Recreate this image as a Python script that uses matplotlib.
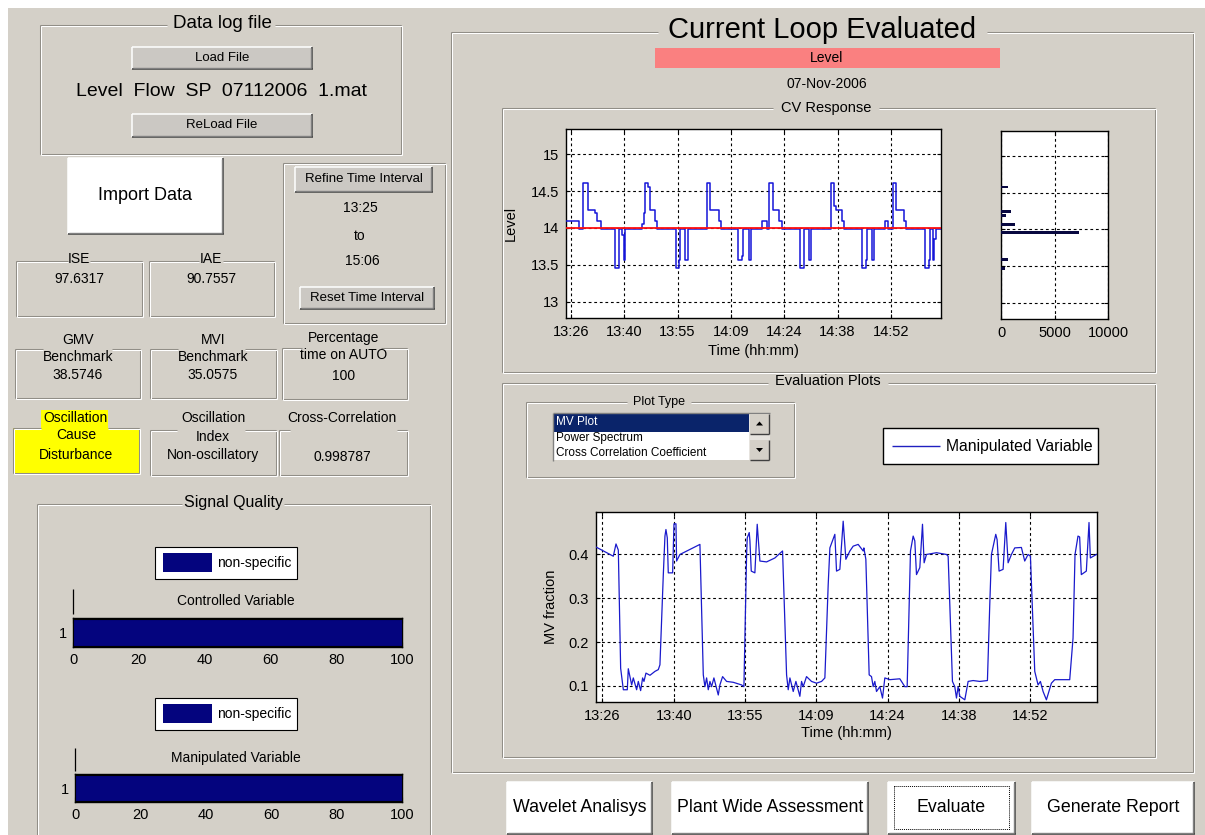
import matplotlib
matplotlib.use('Agg')
import matplotlib.pyplot as plt
from matplotlib.patches import Rectangle, Polygon

# ---------------- data ----------------
time_span_min = 101                      # 13:25 -> 15:06, minutes
time_tick_min = [1.3, 15.67, 30.04, 44.41, 58.78, 73.15, 87.52]
time_tick_labels = ['13:26', '13:40', '13:55', '14:09', '14:24', '14:38', '14:52']

setpoint = 14.0
cv_t = [0.0, 3.6, 4.6, 5.8, 7.9, 8.3, 9.3, 13.3, 14.2, 15.2, 15.5, 15.9,
        20.5, 20.9, 21.2, 22.0, 22.5, 24.0, 24.6, 29.6, 30.3, 30.6, 32.1, 32.8,
        38.0, 38.9, 41.1, 41.7, 46.2, 47.4, 47.8, 49.2, 49.8,
        52.8, 54.1, 54.8, 55.7, 57.5, 58.2, 63.1, 64.0, 65.4, 66.0,
        71.5, 72.1, 72.6, 74.3, 75.0, 79.7, 80.7, 81.0, 82.4, 83.0,
        86.0, 86.7, 88.1, 89.0, 91.1, 91.7, 96.7, 97.7, 98.0, 98.8, 99.2, 99.7, 101.0]
cv_v = [14.10, 13.98, 14.61, 14.24, 14.20, 14.10, 13.98, 13.46, 13.98, 13.90, 13.56, 13.98,
        14.05, 14.20, 14.61, 14.55, 14.24, 14.10, 13.98, 13.46, 13.56, 13.98, 13.56, 13.98,
        14.61, 14.24, 14.10, 13.98, 13.56, 13.62, 13.98, 13.56, 13.98,
        14.10, 13.98, 14.61, 14.24, 14.10, 13.98, 13.46, 13.98, 13.56, 13.98,
        14.61, 14.30, 14.24, 14.10, 13.98, 13.46, 13.56, 13.98, 13.56, 13.98,
        14.10, 13.98, 14.61, 14.24, 14.10, 13.98, 13.46, 13.56, 13.98, 13.56, 13.85, 13.98, 13.98]

hist_level = [14.58, 14.24, 14.19, 14.07, 13.96, 13.59, 13.47]
hist_count = [620, 930, 470, 1340, 7260, 620, 340]

mv_t = [0.0, 3.49, 4.03, 4.50, 4.97, 5.51, 6.31, 6.51, 7.19, 7.52, 8.19, 8.53, 9.00, 9.40,
        9.67, 10.07, 10.88, 11.89, 12.56, 12.89, 13.57, 13.90, 14.10, 14.37, 14.57, 15.45,
        15.72, 16.12, 16.25, 16.92, 20.95, 21.63, 21.96, 22.30, 22.63, 22.97, 23.30, 23.77,
        24.65, 24.98, 25.52, 26.33, 27.67, 29.35, 29.82, 30.36, 30.49, 30.89, 31.03, 31.30,
        32.03, 32.50, 33.04, 34.39, 36.06, 37.61, 38.42, 38.75, 39.09, 39.76, 40.30, 41.10,
        41.44, 41.77, 42.44, 43.45, 44.46, 45.47, 46.14, 46.81, 47.15, 48.15, 48.49, 49.16,
        49.83, 50.37, 51.18, 51.85, 52.85, 53.86, 54.00, 54.40, 55.07, 55.54, 55.88, 56.21,
        56.55, 57.22, 57.76, 58.23, 59.24, 61.25, 62.26, 62.73, 63.40, 63.94, 64.27, 64.61,
        65.28, 65.82, 66.15, 66.62, 68.64, 70.65, 70.99, 71.86, 72.33, 72.67, 73.00, 73.34,
        74.35, 75.02, 76.02, 77.37, 78.91, 79.38, 79.72, 80.59, 80.86, 81.26, 82.07, 82.61,
        83.08, 83.75, 84.42, 85.76, 86.43, 87.10, 87.58, 88.45, 89.12, 89.59, 90.13, 90.80,
        91.81, 92.48, 95.50, 96.17, 96.57, 97.17, 97.50, 97.84, 98.85, 99.39, 99.66, 100.87]
mv_v = [0.417, 0.396, 0.424, 0.410, 0.140, 0.091, 0.091, 0.139, 0.102, 0.118, 0.091, 0.110,
        0.089, 0.118, 0.110, 0.129, 0.124, 0.133, 0.137, 0.148, 0.354, 0.442, 0.457, 0.438,
        0.358, 0.358, 0.470, 0.470, 0.385, 0.400, 0.423, 0.125, 0.098, 0.118, 0.091, 0.110,
        0.098, 0.118, 0.079, 0.102, 0.121, 0.110, 0.108, 0.102, 0.098, 0.400, 0.438, 0.450,
        0.431, 0.362, 0.358, 0.469, 0.385, 0.383, 0.392, 0.408, 0.125, 0.091, 0.118, 0.087,
        0.110, 0.076, 0.110, 0.098, 0.121, 0.110, 0.106, 0.110, 0.118, 0.331, 0.415, 0.446,
        0.362, 0.366, 0.476, 0.389, 0.408, 0.419, 0.423, 0.408, 0.415, 0.389, 0.125, 0.121,
        0.098, 0.110, 0.087, 0.098, 0.072, 0.118, 0.114, 0.116, 0.098, 0.098, 0.408, 0.442,
        0.431, 0.354, 0.370, 0.469, 0.381, 0.400, 0.404, 0.400, 0.396, 0.110, 0.098, 0.072,
        0.098, 0.076, 0.068, 0.110, 0.112, 0.110, 0.112, 0.285, 0.400, 0.446, 0.434, 0.362,
        0.366, 0.473, 0.381, 0.400, 0.415, 0.416, 0.385, 0.400, 0.396, 0.133, 0.102, 0.110,
        0.087, 0.068, 0.106, 0.114, 0.114, 0.209, 0.400, 0.442, 0.440, 0.354, 0.362, 0.473,
        0.392, 0.400]

quality_titles = ['Controlled Variable', 'Manipulated Variable']
quality_values = [100, 100]
quality_category = ['1']
quality_legend = 'non-specific'

file_name = 'Level  Flow  SP  07112006  1.mat'
time_from, time_to = '13:25', '15:06'
ise_value, iae_value = '97.6317', '90.7557'
gmv_value, mvi_value, auto_value = '38.5746', '35.0575', '100'
osc_cause, osc_index, xcorr_value = 'Disturbance', 'Non-oscillatory', '0.998787'
loop_name, loop_date = 'Level', '07-Nov-2006'
plot_types = ['MV Plot', 'Power Spectrum', 'Cross Correlation Coefficient']

# ---------------- figure / helpers ----------------
W, H = 1205, 835
BG = '#d4d0c8'
NAVY = '#04047e'
plt.rcParams['font.family'] = ['Liberation Sans', 'DejaVu Sans']

fig = plt.figure(figsize=(W / 100, H / 100), dpi=100)
fig.patch.set_facecolor('white')
ui = fig.add_axes([0, 0, 1, 1])
ui.set_xlim(0, W)
ui.set_ylim(H, 0)
ui.axis('off')
ui.add_patch(Rectangle((8, 8), W - 8, H - 8, facecolor=BG, edgecolor='none', zorder=0))


def rect(x0, y0, x1, y1):
    return [x0 / W, 1 - y1 / H, (x1 - x0) / W, (y1 - y0) / H]


def ln(xs, ys, c, lw=0.75, ls='-', z=2):
    ui.plot(xs, ys, color=c, lw=lw, ls=ls, solid_capstyle='butt', zorder=z)


def frame(x0, y0, x1, y1, gap=None, bottom=True):
    for off, col in ((0, '#8f8c85'), (1, 'white')):
        a0, b0, a1, b1 = x0 + off, y0 + off, x1 + off, y1 + off
        if gap:
            ln([a0, gap[0]], [b0, b0], col)
            ln([gap[1], a1], [b0, b0], col)
        else:
            ln([a0, a1], [b0, b0], col)
        ln([a0, a0], [b0, b1], col)
        ln([a1, a1], [b0, b1], col)
        if bottom:
            ln([a0, a1], [b1, b1], col)


def txt(x, y, s, fs=10, c='black', ha='center', **kw):
    ui.text(x, y, s, fontsize=fs, color=c, ha=ha, va='center', zorder=5, **kw)


def button(x0, y0, x1, y1, face, label, fs):
    ui.add_patch(Rectangle((x0, y0), x1 - x0, y1 - y0, facecolor=face, edgecolor='none', zorder=2))
    ln([x0, x1], [y0, y0], 'white', 1.1, z=3)
    ln([x0, x0], [y0, y1], 'white', 1.1, z=3)
    ln([x0, x1 + 1], [y1, y1], '#404040', 1.1, z=3)
    ln([x1, x1], [y0, y1], '#404040', 1.1, z=3)
    ln([x0 + 1, x1 - 1], [y1 - 1.3, y1 - 1.3], '#808080', 1.0, z=3)
    ln([x1 - 1.3, x1 - 1.3], [y0 + 1, y1 - 1], '#808080', 1.0, z=3)
    txt((x0 + x1) / 2, (y0 + y1) / 2, label, fs)


def style(ax, fs=10.5):
    ax.set_facecolor('white')
    for s in ax.spines.values():
        s.set_linewidth(1.0)
        s.set_color('black')
    ax.tick_params(direction='in', length=3, width=0.8, top=True, right=True,
                   labelsize=fs, pad=5, colors='black')


def dgrid(ax, **kw):
    ax.grid(True, color='black', linestyle=(0, (2.5, 2.5)), linewidth=0.8, **kw)


# ---------------- left column ----------------
frame(40, 25, 401, 154, gap=(167, 275))
txt(222, 23, 'Data log file', 13.5)
button(132, 47, 312, 69, '#cbc8c3', 'Load File', 9.5)
txt(222, 92, file_name, 14)
button(132, 114, 312, 137, '#cbc8c3', 'ReLoad File', 9.5)

button(68, 158, 223, 234, 'white', 'Import Data', 13)

frame(283, 163, 445, 323)
button(295, 167, 432, 192, '#cbc8c3', 'Refine Time Interval', 9.5)
txt(360, 208, time_from, 10)
txt(360, 236, 'to', 10)
txt(362, 261, time_to, 10)
button(300, 287, 434, 309, '#cbc8c3', 'Reset Time Interval', 9.5)

frame(16, 261, 142, 316, gap=(68, 90))
txt(79, 259, 'ISE', 10)
txt(79, 279, ise_value, 10)
frame(149, 261, 274, 316, gap=(199, 223))
txt(211, 259, 'IAE', 10)
txt(211, 279, iae_value, 10)

frame(15, 349, 140, 398, gap=(43, 112))
txt(78, 340, 'GMV', 10)
txt(78, 357, 'Benchmark', 10)
txt(78, 375, gmv_value, 10)
frame(150, 349, 276, 398, gap=(178, 245))
txt(213, 340, 'MVI', 10)
txt(213, 357, 'Benchmark', 10)
txt(213, 375, mvi_value, 10)
frame(282, 348, 407, 399, gap=(302, 381))
txt(344, 338, 'Percentage', 10)
txt(344, 355, 'time on AUTO', 10)
txt(344, 376, auto_value, 10)

ui.add_patch(Rectangle((13, 428), 126, 45, facecolor='#ffff00', edgecolor='none', zorder=1))
ui.add_patch(Rectangle((41, 410), 67, 18.5, facecolor='#ffff00', edgecolor='none', zorder=1))
frame(13, 428, 139, 473, gap=(41, 108))
txt(75, 418, 'Oscillation', 10)
txt(76, 435, 'Cause', 10)
txt(76, 455, osc_cause, 10)
frame(150, 430, 276, 475, gap=(177, 245))
txt(213, 418, 'Oscillation', 10)
txt(213, 437, 'Index', 10)
txt(213, 455, osc_index, 10)
frame(279, 430, 407, 475, gap=(290, 397))
txt(342, 418, 'Cross-Correlation', 10)
txt(342, 457, xcorr_value, 10)

frame(37, 504, 430, 840, gap=(182, 284), bottom=False)
txt(233, 503, 'Signal Quality', 11.5)

quality_layout = [(547, 589, 614, 601, 618, 647, 73), (698, 748, 771, 758, 774, 802, 75)]
for (ly, vl0, vl1, ty, ay0, ay1, ax0), title, val in zip(quality_layout, quality_titles, quality_values):
    ui.add_patch(Rectangle((155, ly), 142, 32, facecolor='white', edgecolor='black', lw=0.8, zorder=2))
    ui.add_patch(Rectangle((163, ly + 5.5), 49, 19.5, facecolor=NAVY, edgecolor='none', zorder=3))
    txt(217, ly + 16, quality_legend, 10, ha='left')
    ln([ax0, ax0], [vl0, vl1], 'black', 0.9)
    txt(236, ty, title, 10)
    bax = fig.add_axes(rect(ax0, ay0, 402, ay1))
    style(bax)
    bax.tick_params(right=False, length=3.5, pad=4)
    bax.barh(quality_category, [val], height=0.92, color=NAVY, edgecolor='black', linewidth=0.8, zorder=3)
    bax.set_xlim(0, 100)
    bax.set_ylim(-0.5, 0.5)
    bax.set_xticks([0, 20, 40, 60, 80, 100])
    bax.set_axisbelow(False)

# ---------------- right panel ----------------
frame(451, 32, 1193, 772, gap=(658, 987))
txt(822, 30, 'Current Loop Evaluated', 21)
ui.add_patch(Rectangle((655, 48), 345, 20, facecolor='#fa8080', edgecolor='none', zorder=2))
txt(827, 58, loop_name, 10)
txt(827, 84, loop_date, 10)

frame(502, 108, 1155, 372, gap=(773, 879))
txt(826, 108, 'CV Response', 10.5)

ax_cv = fig.add_axes(rect(566, 129, 941, 318))
style(ax_cv)
ax_cv.step(cv_t, cv_v, where='post', color='#1515d8', lw=1.1, zorder=3)
ax_cv.axhline(setpoint, color='#ff1010', lw=1.3, zorder=4)
ax_cv.set_xlim(0, time_span_min)
ax_cv.set_ylim(12.78, 15.34)
ax_cv.set_yticks([13, 13.5, 14, 14.5, 15])
ax_cv.set_yticklabels(['13', '13.5', '14', '14.5', '15'])
ax_cv.set_xticks(time_tick_min)
ax_cv.set_xticklabels(time_tick_labels)
dgrid(ax_cv)
ax_cv.set_ylabel('Level', fontsize=10.5)
ax_cv.yaxis.set_label_coords(-0.128, 0.5)
ax_cv.set_xlabel('Time (hh:mm)', fontsize=10.5)
ax_cv.xaxis.set_label_coords(0.5, -0.135)

ax_h = fig.add_axes(rect(1001, 131, 1108, 319))
style(ax_h)
ax_h.barh(hist_level, hist_count, height=0.035, color='#080840', edgecolor='none', zorder=3)
ax_h.set_ylim(12.78, 15.34)
ax_h.set_xlim(0, 10000)
ax_h.set_yticks([13, 13.5, 14, 14.5, 15])
ax_h.set_yticklabels([])
ax_h.set_xticks([0, 5000, 10000])
ax_h.set_xticklabels(['0', '5000', '10000'])
dgrid(ax_h)

frame(502, 383, 1155, 757, gap=(768, 888))
txt(828, 381, 'Evaluation Plots', 10.5)

frame(526, 402, 794, 477, gap=(627, 691))
txt(659, 402, 'Plot Type', 9)
# list box
ui.add_patch(Rectangle((553, 413), 196, 47, facecolor='white', edgecolor='none', zorder=2))
ui.add_patch(Rectangle((554, 413.5), 195, 18, facecolor='#0a246a', edgecolor='none', zorder=3))
ln([553, 770], [413, 413], '#808080', 1.0, z=4)
ln([553, 553], [413, 461], '#808080', 1.0, z=4)
ui.add_patch(Rectangle((749, 413), 21, 47, facecolor='#e6e3de', edgecolor='none', zorder=3))
for y0, up in ((413.5, True), (440, False)):
    ui.add_patch(Rectangle((750, y0), 19, 20, facecolor=BG, edgecolor='none', zorder=4))
    ln([750, 769], [y0 + 20, y0 + 20], '#404040', 1.0, z=5)
    ln([769, 769], [y0, y0 + 20], '#404040', 1.0, z=5)
    cx, cy = 759.5, y0 + 10
    tri = [(cx - 3.5, cy + 2), (cx + 3.5, cy + 2), (cx, cy - 2)] if up else \
          [(cx - 3.5, cy - 2), (cx + 3.5, cy - 2), (cx, cy + 2)]
    ui.add_patch(Polygon(tri, closed=True, facecolor='black', edgecolor='none', zorder=6))
for i, name in enumerate(plot_types):
    txt(556, 422 + 15.5 * i, name, 8.5, c='white' if i == 0 else 'black', ha='left')

# legend box
ui.add_patch(Rectangle((883, 428), 215, 36, facecolor='white', edgecolor='black', lw=1.0, zorder=2))
ln([892, 940], [446, 446], '#2020c0', 1.0, z=3)
txt(946, 446.5, 'Manipulated Variable', 11.3, ha='left')

ax_mv = fig.add_axes(rect(596, 512, 1097, 702))
style(ax_mv)
ax_mv.plot(mv_t, mv_v, color='#1a1acc', lw=0.9, zorder=3)
ax_mv.set_xlim(0, time_span_min)
ax_mv.set_ylim(0.063, 0.497)
ax_mv.set_yticks([0.1, 0.2, 0.3, 0.4])
ax_mv.set_xticks(time_tick_min)
ax_mv.set_xticklabels(time_tick_labels)
dgrid(ax_mv)
ax_mv.set_ylabel('MV fraction', fontsize=10.5)
ax_mv.yaxis.set_label_coords(-0.075, 0.5)
ax_mv.set_xlabel('Time (hh:mm)', fontsize=10.5)
ax_mv.xaxis.set_label_coords(0.5, -0.125)

# bottom buttons
button(507, 782, 652, 834, 'white', 'Wavelet Analisys', 12.8)
button(672, 782, 868, 834, 'white', 'Plant Wide Assessment', 12.8)
button(888, 782, 1015, 834, 'white', 'Evaluate', 12.8)
ui.add_patch(Rectangle((894, 786), 115, 43, facecolor='none', edgecolor='black', lw=0.7,
                       linestyle=(0, (1, 1)), zorder=4))
button(1032, 782, 1194, 834, 'white', 'Generate Report', 12.8)

fig.savefig('out.png', dpi=100, facecolor=fig.get_facecolor())
